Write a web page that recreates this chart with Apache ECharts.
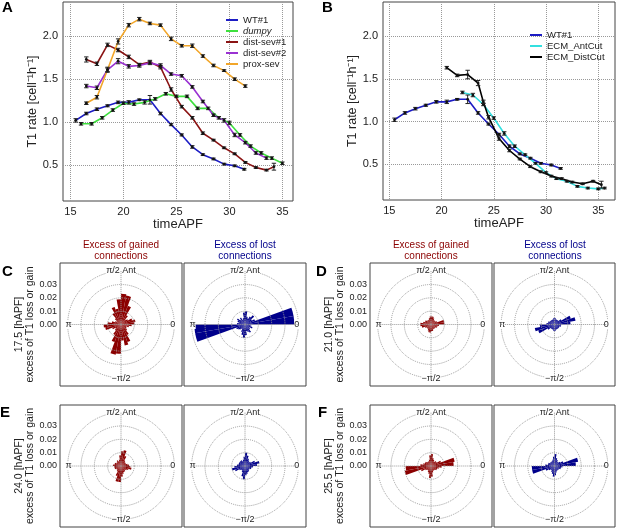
<!DOCTYPE html>
<html>
<head>
<meta charset="utf-8">
<script src="https://cdn.jsdelivr.net/npm/echarts@6/dist/echarts.min.js"></script>
<style>
  html, body { margin: 0; padding: 0; background: #fff; }
  #main { width: 617px; height: 528px; }
</style>
</head>
<body>
<div id="main"></div>
<script>
// ---- panel A / B : T1 rate ----
var xTicks = [15, 20, 25, 30, 35];
var yTicks = [0.5, 1.0, 1.5, 2.0];

var wtTime = [15.5, 16.5, 17.5, 18.5, 19.5, 20.5, 21.5, 22.5, 23.5, 24.5, 25.5, 26.5, 27.5, 28.5, 29.5, 30.5, 31.4];
var wtRate = [1.02, 1.10, 1.15, 1.19, 1.23, 1.23, 1.26, 1.26, 1.10, 0.97, 0.85, 0.71, 0.62, 0.57, 0.51, 0.49, 0.45];
var wtErr  = [0.02, 0.015, 0.015, 0.012, 0.015, 0.02, 0.01, 0.05, 0.015, 0.012, 0.012, 0.015, 0.01, 0.01, 0.01, 0.01, 0.01];

var dumpyTime = [16, 17, 18, 19, 20, 21, 22, 23, 24, 25, 26, 27, 28, 29, 30, 31, 32, 33, 34, 35];
var dumpyRate = [0.98, 0.98, 1.05, 1.14, 1.22, 1.21, 1.23, 1.27, 1.33, 1.30, 1.30, 1.16, 1.16, 1.05, 0.99, 0.85, 0.72, 0.64, 0.58, 0.52];
var dumpyErr  = [0.015, 0.015, 0.015, 0.015, 0.015, 0.015, 0.02, 0.015, 0.015, 0.015, 0.015, 0.015, 0.015, 0.015, 0.02, 0.015, 0.015, 0.015, 0.015, 0.015];

var sev1Time = [16.5, 17.5, 18.5, 19.5, 20.5, 21.5, 22.5, 23.5, 24.5, 25.5, 26.5, 27.5, 28.5, 29.5, 30.5, 31.5, 32.5, 33.5, 34.2];
var sev1Rate = [1.73, 1.68, 1.90, 1.84, 1.76, 1.67, 1.70, 1.64, 1.38, 1.18, 1.05, 0.87, 0.79, 0.70, 0.63, 0.53, 0.47, 0.44, 0.48];
var sev1Err  = [0.03, 0.02, 0.02, 0.02, 0.02, 0.015, 0.02, 0.02, 0.02, 0.015, 0.015, 0.015, 0.01, 0.01, 0.01, 0.01, 0.01, 0.01, 0.04];

var sev2Time = [16.5, 17.5, 18.5, 19.5, 20.5, 21.5, 22.5, 23.5, 24.5, 25.5, 26.5, 27.5, 28.5, 29.5, 30.5, 31.5, 32.5, 33.5];
var sev2Rate = [1.42, 1.40, 1.61, 1.71, 1.65, 1.66, 1.69, 1.66, 1.56, 1.54, 1.41, 1.24, 1.08, 1.02, 0.85, 0.76, 0.64, 0.58];
var sev2Err  = [0.02, 0.02, 0.03, 0.03, 0.02, 0.02, 0.02, 0.02, 0.015, 0.015, 0.015, 0.015, 0.015, 0.02, 0.02, 0.015, 0.015, 0.015];

var proxTime = [16.5, 17.5, 18.5, 19.5, 20.5, 21.5, 22.5, 23.5, 24.5, 25.5, 26.5, 27.5, 28.5, 29.5, 30.5, 31.5];
var proxRate = [1.22, 1.29, 1.61, 1.94, 2.13, 2.20, 2.15, 2.13, 1.97, 1.89, 1.89, 1.77, 1.66, 1.60, 1.50, 1.42];
var proxErr  = [0.015, 0.02, 0.02, 0.03, 0.02, 0.02, 0.015, 0.015, 0.02, 0.015, 0.02, 0.015, 0.015, 0.01, 0.015, 0.015];

var antTime = [22, 23, 24, 25, 26, 27, 28, 29, 30, 31, 32, 33, 34, 35, 35.6];
var antRate = [1.34, 1.31, 1.20, 1.04, 0.86, 0.71, 0.61, 0.51, 0.40, 0.33, 0.30, 0.24, 0.22, 0.21, 0.22];
var antErr  = [0.015, 0.02, 0.015, 0.015, 0.02, 0.015, 0.01, 0.01, 0.01, 0.01, 0.01, 0.01, 0.01, 0.01, 0.01];

var distTime = [20.5, 21.5, 22.5, 23.5, 24.0, 24.5, 25.5, 26.5, 27.5, 28.5, 29.5, 30.5, 31.5, 32.5, 33.5, 34.5, 35.3];
var distRate = [1.63, 1.54, 1.55, 1.45, 1.23, 1.05, 0.80, 0.66, 0.56, 0.47, 0.41, 0.36, 0.33, 0.29, 0.27, 0.30, 0.26];
var distErr  = [0.015, 0.015, 0.05, 0.03, 0.02, 0.02, 0.02, 0.015, 0.01, 0.01, 0.01, 0.01, 0.01, 0.01, 0.01, 0.01, 0.04];

// ---- panels C-F : rose of T1 excess, 36 bins of 10 deg starting at 0 ----
var binStart = [0, 10, 20, 30, 40, 50, 60, 70, 80, 90, 100, 110, 120, 130, 140, 150, 160, 170,
                180, 190, 200, 210, 220, 230, 240, 250, 260, 270, 280, 290, 300, 310, 320, 330, 340, 350];
var roseTicks = [0, 0.01, 0.02, 0.03];
var rowTimes = ['17.5', '21.0', '24.0', '25.5'];

var roseGain175 = [0.010, 0.011, 0.009, 0.006, 0.005, 0.008, 0.015, 0.022, 0.023, 0.019, 0.012, 0.014, 0.010, 0.006, 0.004, 0.005, 0.007, 0.010,
                   0.013, 0.012, 0.007, 0.005, 0.006, 0.009, 0.014, 0.023, 0.022, 0.012, 0.016, 0.014, 0.009, 0.006, 0.005, 0.004, 0.006, 0.008];
var roseLoss175 = [0.037, 0.037, 0.008, 0.006, 0.009, 0.007, 0.005, 0.006, 0.010, 0.009, 0.005, 0.004, 0.006, 0.005, 0.007, 0.006, 0.005, 0.006,
                   0.038, 0.038, 0.007, 0.006, 0.005, 0.004, 0.006, 0.008, 0.010, 0.008, 0.005, 0.006, 0.007, 0.005, 0.004, 0.006, 0.005, 0.004];
var roseGain210 = [0.010, 0.010, 0.005, 0.004, 0.004, 0.004, 0.005, 0.006, 0.006, 0.006, 0.005, 0.004, 0.004, 0.004, 0.005, 0.005, 0.006, 0.008,
                   0.008, 0.007, 0.005, 0.004, 0.004, 0.004, 0.005, 0.006, 0.006, 0.005, 0.005, 0.004, 0.004, 0.004, 0.004, 0.005, 0.005, 0.006];
var roseLoss210 = [0.012, 0.016, 0.013, 0.006, 0.004, 0.004, 0.004, 0.004, 0.005, 0.005, 0.004, 0.004, 0.004, 0.004, 0.004, 0.005, 0.005, 0.006,
                   0.011, 0.015, 0.013, 0.006, 0.004, 0.004, 0.004, 0.004, 0.005, 0.005, 0.004, 0.004, 0.004, 0.004, 0.004, 0.004, 0.005, 0.005];
var roseGain240 = [0.006, 0.005, 0.004, 0.004, 0.004, 0.005, 0.008, 0.012, 0.011, 0.008, 0.005, 0.004, 0.005, 0.004, 0.004, 0.005, 0.005, 0.006,
                   0.005, 0.005, 0.005, 0.004, 0.004, 0.005, 0.008, 0.012, 0.012, 0.008, 0.006, 0.005, 0.005, 0.004, 0.005, 0.006, 0.008, 0.007];
var roseLoss240 = [0.009, 0.011, 0.008, 0.005, 0.004, 0.005, 0.006, 0.008, 0.010, 0.007, 0.005, 0.004, 0.005, 0.005, 0.005, 0.005, 0.005, 0.006,
                   0.008, 0.010, 0.008, 0.005, 0.004, 0.004, 0.005, 0.008, 0.010, 0.007, 0.006, 0.005, 0.005, 0.004, 0.004, 0.005, 0.005, 0.006];
var roseGain255 = [0.017, 0.018, 0.008, 0.005, 0.005, 0.004, 0.005, 0.006, 0.009, 0.008, 0.005, 0.004, 0.004, 0.004, 0.005, 0.005, 0.006, 0.008,
                   0.019, 0.020, 0.008, 0.005, 0.004, 0.004, 0.005, 0.006, 0.009, 0.008, 0.005, 0.004, 0.004, 0.004, 0.005, 0.005, 0.006, 0.008];
var roseLoss255 = [0.016, 0.018, 0.007, 0.005, 0.004, 0.004, 0.005, 0.006, 0.009, 0.007, 0.005, 0.004, 0.004, 0.004, 0.004, 0.005, 0.005, 0.007,
                   0.017, 0.017, 0.007, 0.005, 0.004, 0.004, 0.005, 0.006, 0.008, 0.007, 0.005, 0.004, 0.004, 0.004, 0.004, 0.005, 0.005, 0.006];

(function () {
  var chart = echarts.init(document.getElementById('main'));
  var FONT = '"Liberation Sans", Arial, sans-serif';
  var TXT = '#222';
  var gainColor = '#8b0000';
  var lossColor = '#00008b';
  var dotted = { type: 'dotted', color: '#999', width: 1 };

  function pairs(t, v) { return t.map(function (x, i) { return [x, v[i]]; }); }
  function triples(t, v, e) { return t.map(function (x, i) { return [x, v[i], e[i]]; }); }

  // error bar with caps + small dot
  function errorBar(params, api) {
    var x = api.value(0), y = api.value(1), e = api.value(2);
    var hi = api.coord([x, y + e]), lo = api.coord([x, y - e]), mid = api.coord([x, y]);
    var w = 2.2;
    var st = { stroke: '#222', lineWidth: 1 };
    return {
      type: 'group',
      children: [
        { type: 'line', shape: { x1: hi[0], y1: hi[1], x2: lo[0], y2: lo[1] }, style: st },
        { type: 'line', shape: { x1: hi[0] - w, y1: hi[1], x2: hi[0] + w, y2: hi[1] }, style: st },
        { type: 'line', shape: { x1: lo[0] - w, y1: lo[1], x2: lo[0] + w, y2: lo[1] }, style: st },
        { type: 'circle', shape: { cx: mid[0], cy: mid[1], r: 1.4 }, style: { fill: '#111' } }
      ]
    };
  }

  var grids = [
    { left: 63, top: 2, width: 230, height: 199, show: true, borderColor: '#444', borderWidth: 1 },
    { left: 383, top: 2, width: 232, height: 198, show: true, borderColor: '#444', borderWidth: 1 }
  ];
  var xAxes = [], yAxes = [], series = [];

  function rateAxes(gi, xmin, xmax) {
    xAxes.push({
      gridIndex: gi, type: 'value', min: xmin, max: xmax,
      name: 'timeAPF', nameLocation: 'middle', nameGap: 17,
      nameTextStyle: { fontFamily: FONT, fontSize: 13, color: TXT },
      axisLine: { show: false },
      axisTick: { show: false, customValues: xTicks },
      axisLabel: { customValues: xTicks, fontFamily: FONT, fontSize: 11, color: TXT, margin: 5 },
      splitLine: { show: true, lineStyle: dotted }
    });
    yAxes.push({
      gridIndex: gi, type: 'value', min: 0.08, max: 2.4,
      name: 'T1 rate [cell\u207B\u00B9h\u207B\u00B9]', nameLocation: 'middle', nameGap: 23,
      nameTextStyle: { fontFamily: FONT, fontSize: 12.5, color: TXT },
      axisLine: { show: false },
      axisTick: { show: false, customValues: yTicks },
      axisLabel: {
        customValues: yTicks, fontFamily: FONT, fontSize: 11, color: TXT, margin: 5,
        formatter: function (v) { return v.toFixed(1); }
      },
      splitLine: { show: true, lineStyle: dotted }
    });
  }
  rateAxes(0, 14.3, 36.0);
  rateAxes(1, 14.4, 36.6);

  function addRate(gi, name, color, t, v, e) {
    series.push({
      name: name, type: 'line', xAxisIndex: gi, yAxisIndex: gi,
      data: pairs(t, v), symbol: 'none', color: color,
      lineStyle: { width: 1.6, color: color }, z: 2, silent: true
    });
    series.push({
      name: name + ' err', type: 'custom', xAxisIndex: gi, yAxisIndex: gi,
      data: triples(t, v, e), encode: { x: 0, y: 1 }, renderItem: errorBar, z: 3, silent: true
    });
  }
  addRate(0, 'WT#1', '#1c1cc4', wtTime, wtRate, wtErr);
  addRate(0, 'dumpy', '#3ee03e', dumpyTime, dumpyRate, dumpyErr);
  addRate(0, 'dist-sev#1', '#8b1414', sev1Time, sev1Rate, sev1Err);
  addRate(0, 'dist-sev#2', '#9a32d2', sev2Time, sev2Rate, sev2Err);
  addRate(0, 'prox-sev', '#f2a62a', proxTime, proxRate, proxErr);
  addRate(1, 'WT#1', '#1c1cc4', wtTime, wtRate, wtErr);
  addRate(1, 'ECM_AntCut', '#33e0e0', antTime, antRate, antErr);
  addRate(1, 'ECM_DistCut', '#000000', distTime, distRate, distErr);

  // rose panels
  var PX_PER_UNIT = 1333;   // 0.01 -> 13.3 px
  var roseBoxes = [
    { left: 60,  top: 263, width: 122, height: 123, data: roseGain175, color: gainColor, row: 0 },
    { left: 184, top: 263, width: 122, height: 123, data: roseLoss175, color: lossColor },
    { left: 370, top: 263, width: 122, height: 123, data: roseGain210, color: gainColor, row: 1 },
    { left: 494, top: 263, width: 121, height: 123, data: roseLoss210, color: lossColor },
    { left: 60,  top: 405, width: 122, height: 122, data: roseGain240, color: gainColor, row: 2 },
    { left: 184, top: 405, width: 122, height: 122, data: roseLoss240, color: lossColor },
    { left: 370, top: 405, width: 122, height: 122, data: roseGain255, color: gainColor, row: 3 },
    { left: 494, top: 405, width: 121, height: 122, data: roseLoss255, color: lossColor }
  ];
  var angleLabels = { 0: '0', 90: '\u03C0/2 Ant', 180: '\u03C0', 270: '\u2212\u03C0/2' };
  var polars = [], angleAxes = [], radiusAxes = [];

  roseBoxes.forEach(function (b, k) {
    var gi = grids.length;
    var half = b.height / 2 / PX_PER_UNIT;
    var hasTicks = b.row !== undefined;
    grids.push({ left: b.left, top: b.top, width: b.width, height: b.height, show: true, borderColor: '#444', borderWidth: 1 });
    xAxes.push({ gridIndex: gi, type: 'value', min: 0, max: 1, show: false });
    yAxes.push({
      gridIndex: gi, type: 'value', min: -half, max: half,
      name: hasTicks ? rowTimes[b.row] + ' [hAPF]\nexcess of T1 loss or gain' : '',
      nameLocation: 'middle', nameGap: 22,
      nameTextStyle: { fontFamily: FONT, fontSize: 10.5, lineHeight: 11, color: TXT },
      axisLine: { show: false },
      axisTick: { show: false, customValues: roseTicks },
      splitLine: { show: false },
      axisLabel: {
        show: hasTicks, customValues: roseTicks, fontFamily: FONT, fontSize: 9, color: TXT, margin: 3,
        formatter: function (v) { return v.toFixed(2); }
      }
    });

    var center = [b.left + b.width / 2, b.top + b.height / 2];
    var radius = 0.04 * PX_PER_UNIT;
    var pGrid = polars.length;
    polars.push({ center: center, radius: radius });
    angleAxes.push({
      polarIndex: pGrid, type: 'value', min: 0, max: 360, interval: 90,
      startAngle: 0, clockwise: false, z: 5,
      axisLine: { show: false }, axisTick: { show: false },
      splitLine: { show: true, lineStyle: dotted },
      axisLabel: {
        margin: -4, fontFamily: FONT, fontSize: 9, color: TXT, backgroundColor: '#fff',
        formatter: function (v) { return angleLabels[v] || ''; }
      }
    });
    radiusAxes.push({
      polarIndex: pGrid, type: 'value', min: 0, max: 0.04, interval: 0.01, z: 5,
      axisLine: { show: false }, axisTick: { show: false }, axisLabel: { show: false },
      splitLine: { show: true, lineStyle: dotted }
    });

    var pBar = polars.length;
    polars.push({ center: center, radius: radius });
    angleAxes.push({
      polarIndex: pBar, type: 'category', data: binStart, startAngle: 0, clockwise: false,
      axisLine: { show: false }, axisTick: { show: false }, axisLabel: { show: false }, splitLine: { show: false }
    });
    radiusAxes.push({
      polarIndex: pBar, type: 'value', min: 0, max: 0.04,
      axisLine: { show: false }, axisTick: { show: false }, axisLabel: { show: false }, splitLine: { show: false }
    });
    series.push({
      name: 'rose' + k, type: 'bar', coordinateSystem: 'polar', polarIndex: pBar,
      data: b.data, barCategoryGap: '0%', itemStyle: { color: b.color }, z: 1, silent: true
    });
  });

  function legendFmt(name) { return name === 'dumpy' ? '{i|dumpy}' : name; }
  var legendText = {
    fontFamily: FONT, fontSize: 9.5, color: TXT, lineHeight: 10,
    rich: { i: { fontFamily: FONT, fontSize: 9.5, fontStyle: 'italic', color: TXT } }
  };

  function txt(x, y, s, opts) {
    return {
      type: 'text', x: x, y: y,
      style: Object.assign({ text: s, fill: TXT, font: '10px ' + FONT, align: 'left', verticalAlign: 'top' }, opts || {})
    };
  }
  var letterFont = 'bold 15px ' + FONT;
  var graphic = [
    txt(2, 0, 'A', { font: letterFont, fill: '#000' }),
    txt(322, 0, 'B', { font: letterFont, fill: '#000' }),
    txt(2, 264, 'C', { font: letterFont, fill: '#000' }),
    txt(316, 264, 'D', { font: letterFont, fill: '#000' }),
    txt(0, 405, 'E', { font: letterFont, fill: '#000' }),
    txt(318, 405, 'F', { font: letterFont, fill: '#000' })
  ];
  [121, 431].forEach(function (cx) {
    graphic.push(txt(cx, 240, 'Excess of gained\nconnections', { align: 'center', fill: gainColor, lineHeight: 11 }));
  });
  [245, 555].forEach(function (cx) {
    graphic.push(txt(cx, 240, 'Excess of lost\nconnections', { align: 'center', fill: lossColor, lineHeight: 11 }));
  });

  var option = {
    animation: false,
    textStyle: { fontFamily: FONT },
    grid: grids,
    xAxis: xAxes,
    yAxis: yAxes,
    polar: polars,
    angleAxis: angleAxes,
    radiusAxis: radiusAxes,
    legend: [
      {
        data: ['WT#1', 'dumpy', 'dist-sev#1', 'dist-sev#2', 'prox-sev'],
        left: 221, top: 10, orient: 'vertical', icon: 'rect', itemWidth: 12, itemHeight: 2,
        itemGap: 1, formatter: legendFmt, textStyle: legendText, selectedMode: false
      },
      {
        data: ['WT#1', 'ECM_AntCut', 'ECM_DistCut'],
        left: 525, top: 25, orient: 'vertical', icon: 'rect', itemWidth: 12, itemHeight: 2,
        itemGap: 1, textStyle: legendText, selectedMode: false
      }
    ],
    graphic: graphic,
    series: series
  };

  chart.setOption(option);
  window.addEventListener('resize', function () { chart.resize(); });
})();
</script>
</body>
</html>
